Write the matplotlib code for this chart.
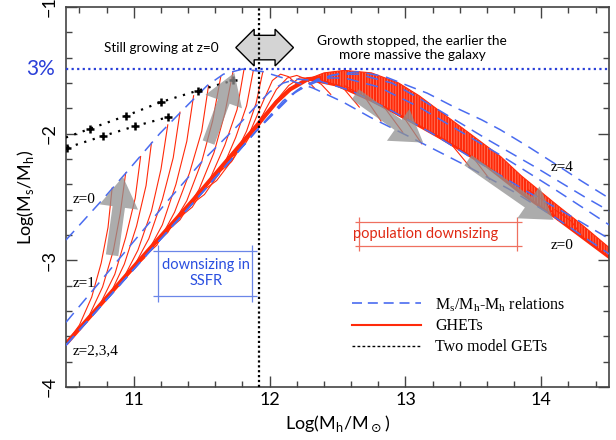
import numpy as np
import matplotlib.pyplot as plt
from matplotlib.lines import Line2D
from matplotlib.ticker import MultipleLocator

plt.rcParams['font.family'] = ['Lato', 'DejaVu Sans']
plt.rcParams['hatch.linewidth'] = 0.5

# Ms/Mh - Mh relations for z = 0..4 (blue dashed)
z0_x = [10.5, 10.77, 10.95, 11.19, 11.4, 11.54, 11.66, 11.8, 11.95, 12.1, 12.32, 12.54, 12.74, 13.04, 13.46, 13.8, 14.1, 14.5]
z0_y = [-2.84, -2.52, -2.30, -2.0, -1.77, -1.62, -1.53, -1.49, -1.51, -1.56, -1.64, -1.75, -1.87, -2.03, -2.26, -2.46, -2.66, -2.95]
z1_x = [10.5, 10.75, 11.0, 11.25, 11.51, 11.78, 11.91, 12.0, 12.1, 12.2, 12.35, 12.6, 12.9, 13.2, 13.5, 13.9, 14.2, 14.5]
z1_y = [-3.49, -3.17, -2.85, -2.53, -2.21, -1.92, -1.77, -1.67, -1.60, -1.57, -1.58, -1.66, -1.82, -2.0, -2.20, -2.46, -2.64, -2.83]
z2_x = [10.5, 11.0, 11.5, 11.9, 12.1, 12.25, 12.4, 12.55, 12.8, 13.1, 13.4, 13.7, 14.1, 14.5]
z2_y = [-3.67, -3.07, -2.47, -1.98, -1.74, -1.62, -1.56, -1.56, -1.63, -1.79, -1.98, -2.17, -2.44, -2.72]
z3_x = [10.5, 11.0, 11.5, 11.9, 12.15, 12.35, 12.5, 12.65, 12.9, 13.1, 13.41, 13.61, 13.95, 14.15, 14.32, 14.5]
z3_y = [-3.67, -3.07, -2.47, -1.98, -1.70, -1.57, -1.53, -1.53, -1.60, -1.72, -1.92, -2.05, -2.26, -2.39, -2.50, -2.61]
z4_x = [10.5, 11.0, 11.5, 11.9, 12.2, 12.45, 12.65, 12.85, 13.04, 13.16, 13.36, 13.56, 13.7, 13.9, 14.09, 14.29, 14.5]
z4_y = [-3.67, -3.07, -2.47, -1.98, -1.66, -1.54, -1.51, -1.55, -1.63, -1.68, -1.79, -1.89, -1.97, -2.10, -2.23, -2.37, -2.51]
relations = [(z0_x, z0_y), (z1_x, z1_y), (z2_x, z2_y), (z3_x, z3_y), (z4_x, z4_y)]

# GHETs: common early track (thick) and the individual tracks
thick_x = [10.5, 11.0, 11.44, 11.91, 12.05, 12.15, 12.28, 12.38]
thick_y = [-3.66, -3.05, -2.52, -1.93, -1.75, -1.65, -1.57, -1.56]

left_tracks_x = [
    [10.5, 10.60, 10.69, 10.76, 10.81, 10.84],
    [10.56, 10.67, 10.77, 10.85, 10.90, 10.94],
    [10.62, 10.75, 10.86, 10.94, 11.01, 11.05],
    [10.68, 10.82, 10.93, 11.02, 11.09, 11.13],
    [10.76, 10.91, 11.03, 11.13, 11.20, 11.25],
    [10.83, 10.98, 11.11, 11.21, 11.29, 11.34],
    [10.92, 11.08, 11.21, 11.31, 11.39, 11.44],
    [11.0, 11.17, 11.30, 11.41, 11.50, 11.55],
    [11.08, 11.25, 11.39, 11.50, 11.58, 11.64],
    [11.17, 11.34, 11.48, 11.59, 11.67, 11.73],
    [11.26, 11.43, 11.56, 11.67, 11.76, 11.81],
    [11.36, 11.52, 11.65, 11.75, 11.83, 11.88],
    [11.46, 11.61, 11.73, 11.83, 11.90, 11.95],
    [11.56, 11.72, 11.85, 11.95, 12.02, 12.08, 12.14, 12.2],
    [11.66, 11.82, 11.95, 12.05, 12.13, 12.2, 12.27, 12.33],
    [11.76, 11.92, 12.04, 12.14, 12.22, 12.3, 12.38, 12.45],
]
left_tracks_y = [
    [-3.66, -3.51, -3.29, -3.02, -2.74, -2.43],
    [-3.59, -3.44, -3.21, -2.92, -2.63, -2.31],
    [-3.51, -3.35, -3.11, -2.82, -2.51, -2.18],
    [-3.44, -3.28, -3.03, -2.73, -2.41, -2.07],
    [-3.34, -3.17, -2.92, -2.61, -2.28, -1.93],
    [-3.26, -3.09, -2.83, -2.52, -2.19, -1.83],
    [-3.15, -2.98, -2.72, -2.40, -2.06, -1.70],
    [-3.05, -2.88, -2.62, -2.31, -1.98, -1.62],
    [-2.95, -2.78, -2.53, -2.22, -1.90, -1.55],
    [-2.84, -2.68, -2.44, -2.15, -1.84, -1.51],
    [-2.73, -2.58, -2.36, -2.09, -1.81, -1.50],
    [-2.61, -2.48, -2.28, -2.03, -1.78, -1.50],
    [-2.49, -2.37, -2.20, -1.98, -1.76, -1.51],
    [-2.37, -2.22, -2.0, -1.75, -1.58, -1.53, -1.55, -1.61],
    [-2.25, -2.08, -1.85, -1.65, -1.56, -1.54, -1.57, -1.64],
    [-2.12, -1.94, -1.75, -1.62, -1.56, -1.56, -1.61, -1.69],
]

band_up_x = [12.28, 12.4, 12.55, 12.75, 12.95, 13.1, 13.4, 13.7, 13.85, 14.1, 14.3, 14.5]
band_up_y = [-1.57, -1.52, -1.50, -1.52, -1.60, -1.70, -1.94, -2.18, -2.33, -2.55, -2.72, -2.90]
band_lo_x = [12.28, 12.5, 12.75, 13.0, 13.3, 13.6, 13.85, 14.1, 14.3, 14.5]
band_lo_y = [-1.57, -1.62, -1.74, -1.88, -2.06, -2.26, -2.47, -2.66, -2.82, -2.98]

tails_x = [[12.4, 12.55, 12.66], [12.55, 12.7, 12.82], [12.7, 12.85, 12.98], [12.85, 13.0, 13.12],
           [13.2, 13.35, 13.48], [13.35, 13.5, 13.62], [13.9, 14.02, 14.12], [14.1, 14.22, 14.3]]
tails_y = [[-1.58, -1.65, -1.79], [-1.62, -1.71, -1.90], [-1.70, -1.80, -1.99], [-1.79, -1.89, -2.08],
           [-2.0, -2.10, -2.27], [-2.09, -2.19, -2.36], [-2.44, -2.53, -2.68], [-2.6, -2.69, -2.81]]

# two model GETs (black dotted with crosses)
get1_x = [10.5, 10.68, 10.94, 11.2, 11.47, 11.73]
get1_y = [-2.03, -1.96, -1.86, -1.75, -1.66, -1.58]
get2_x = [10.51, 10.77, 11.01, 11.25]
get2_y = [-2.11, -2.02, -1.94, -1.87]

# grey arrows: (start, tip)
grey_arrows = [((10.84, -2.96), (10.92, -2.34)),
               ((11.55, -2.07), (11.74, -1.52)),
               ((12.63, -1.69), (13.13, -2.07)),
               ((13.46, -2.21), (14.09, -2.68))]

three_pct = -1.49
mh_split = 11.92

fig = plt.figure(figsize=(6.16, 4.4), dpi=100)
ax = fig.add_axes([0.107, 0.1205, 0.882, 0.8635])

red = '#ff2a0a'
blue = '#4a6cf0'

# band of massive GHETs
ax.fill(np.r_[band_up_x, band_lo_x[::-1]], np.r_[band_up_y, band_lo_y[::-1]],
        facecolor=red, edgecolor='#ff8a70', hatch='||||||', lw=0, zorder=2)
ax.plot(band_up_x, band_up_y, color=red, lw=0.8, zorder=2)
ax.plot(band_lo_x, band_lo_y, color=red, lw=1.8, zorder=2)

for tx, ty in zip(left_tracks_x, left_tracks_y):
    ax.plot(tx, ty, color=red, lw=0.8, zorder=2)
for tx, ty in zip(tails_x, tails_y):
    ax.plot(tx, ty, color=red, lw=0.8, zorder=2)
ax.plot(thick_x, thick_y, color=red, lw=3.0, solid_capstyle='butt', zorder=2)

for rx, ry in relations:
    ax.plot(rx, ry, color=blue, lw=1.1, dashes=(8, 5), zorder=3)

ax.plot(get1_x, get1_y, color='black', ls=(0, (1, 3)), lw=1.6, zorder=4)
ax.plot(get1_x[1:], get1_y[1:], '+', color='black', ms=6, mew=1.8, zorder=4)
ax.plot(get2_x, get2_y, color='black', ls=(0, (1, 3)), lw=1.6, zorder=4)
ax.plot(get2_x, get2_y, '+', color='black', ms=6, mew=1.8, zorder=4)

for start, tip in grey_arrows:
    ax.annotate('', xy=tip, xytext=start,
                arrowprops=dict(arrowstyle='simple,head_width=1.4,head_length=1.1,tail_width=0.45',
                                color='#909090', alpha=0.75, lw=0, shrinkA=0, shrinkB=0,
                                mutation_scale=20), zorder=5)

ax.axhline(three_pct, color='#2a3fd8', ls=(0, (1, 1.5)), lw=1.6, zorder=4)
ax.axvline(mh_split, color='black', ls=(0, (1, 1.2)), lw=1.6, zorder=7)

ax.text(mh_split + 0.05, -1.32, ' ' * 9, ha='center', va='center', fontsize=10, zorder=6,
        bbox=dict(boxstyle='darrow,pad=0.45', fc='#d4d4d4', ec='black', lw=1))
ax.text(11.2, -1.32, 'Still growing at z=0', ha='center', va='center', fontsize=9.8)
ax.text(13.05, -1.32, 'Growth stopped, the earlier the\nmore massive the galaxy',
        ha='center', va='center', fontsize=9.8, linespacing=1.2)
ax.text(10.42, three_pct, '3%', color='#2a3fd8', ha='right', va='center', fontsize=15)

serif = ['Liberation Serif', 'DejaVu Serif']
ax.text(10.55, -2.52, 'z=0', family=serif, fontsize=11, va='center')
ax.text(10.55, -3.18, 'z=1', family=serif, fontsize=11, va='center')
ax.text(10.55, -3.71, 'z=2,3,4', family=serif, fontsize=11, va='center')
ax.text(14.07, -2.27, 'z=4', family=serif, fontsize=11, va='center')
ax.text(14.07, -2.88, 'z=0', family=serif, fontsize=11, va='center')

# boxed annotations
ax.hlines([-2.93, -3.28], 11.14, 11.91, color='#6b86e8', lw=0.9)
ax.vlines([11.18, 11.87], -3.33, -2.88, color='#6b86e8', lw=0.9)
ax.text(11.53, -3.1, 'downsizing in\nSSFR', color='#2a4fe0', ha='center', va='center',
        fontsize=10.5, linespacing=1.2)
ax.hlines([-2.70, -2.89], 12.63, 13.86, color='#ef7060', lw=0.9)
ax.vlines([12.66, 13.82], -2.93, -2.66, color='#ef7060', lw=0.9)
ax.text(13.15, -2.79, 'population downsizing', color='#e02a15', ha='center', va='center',
        fontsize=10.5)

handles = [Line2D([], [], color=blue, lw=1.2, dashes=(6, 3.5)),
           Line2D([], [], color=red, lw=1.5),
           Line2D([], [], color='black', lw=1.0, ls=(0, (2, 1.6)))]
labels = ['M$_\\mathdefault{s}$/M$_\\mathdefault{h}$-M$_\\mathdefault{h}$ relations', 'GHETs', 'Two model GETs']
ax.legend(handles, labels, loc='upper left', bbox_to_anchor=(0.50, 0.28), frameon=False,
          handlelength=4.3, handletextpad=0.9, labelspacing=0.3,
          prop={'family': serif, 'size': 11.5})

ax.set_xlim(10.5, 14.5)
ax.set_ylim(-4, -1)
ax.xaxis.set_major_locator(MultipleLocator(1))
ax.xaxis.set_minor_locator(MultipleLocator(0.2))
ax.yaxis.set_major_locator(MultipleLocator(1))
ax.yaxis.set_minor_locator(MultipleLocator(0.2))
ax.tick_params(which='both', direction='in', top=True, right=True, labelsize=13, color='#444444')
ax.tick_params(which='major', length=8, width=1)
ax.tick_params(which='minor', length=4, width=1)
ax.tick_params(axis='y', labelrotation=90, pad=6)
for lab in ax.get_yticklabels():
    lab.set_va('center')
for sp in ax.spines.values():
    sp.set_color('#444444')
    sp.set_linewidth(1.2)

ax.set_xlabel('Log(M$_\\mathdefault{h}$/M$_\\odot$)', fontsize=13, labelpad=4)
ax.set_ylabel('Log(M$_\\mathdefault{s}$/M$_\\mathdefault{h}$)', fontsize=13, labelpad=4)

fig.savefig('out.png', dpi=100)
